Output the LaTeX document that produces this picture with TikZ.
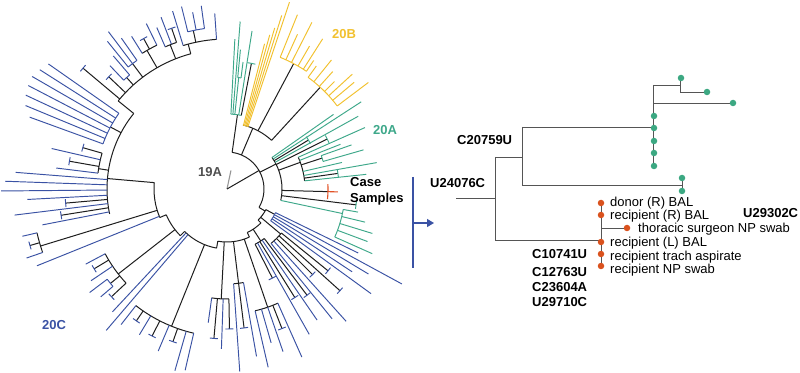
\documentclass[tikz,border=0pt]{standalone}
\usepackage{fontspec}
\setmainfont{Liberation Sans}
\usetikzlibrary{arrows.meta}
\definecolor{cblue}{RGB}{58,82,164}
\definecolor{cteal}{RGB}{62,168,138}
\definecolor{cyel}{RGB}{242,193,46}
\definecolor{cred}{RGB}{226,82,38}
\definecolor{cgray}{RGB}{150,150,150}
\definecolor{cdark}{RGB}{30,30,30}
\definecolor{lgray}{RGB}{85,85,85}
\definecolor{dteal}{RGB}{60,168,130}
\definecolor{dred}{RGB}{218,82,30}
\definecolor{lbl}{RGB}{80,80,80}
\newcommand\trad[4]{\draw[#1] (#2:#3pt) -- (#2:#4pt);}
\newcommand\tarc[4]{\draw[#1] (#2:#4pt) arc[start angle=#2,end angle=#3,radius=#4pt];}
\newcommand\tcap[3]{\pgfmathsetmacro\capd{230/#3}\draw[#1] ({#2+\capd}:#3pt) arc[start angle={#2+\capd},end angle={#2-\capd},radius=#3pt];}
\newcommand\btip[4]{\trad{tk}{#2}{#3}{#4}\tcap{#1}{#2}{#4}}
\tikzset{
 tk/.style={cdark,line width=1pt},
 cb/.style={cblue,line width=0.95pt},
 ct/.style={cteal,line width=0.95pt},
 cy/.style={cyel,line width=0.95pt},
 cr/.style={cred,line width=1.1pt},
 cg/.style={cgray,line width=1.1pt},
 rt/.style={lgray,line width=0.9pt},
 tdot/.style={circle,fill=dteal,inner sep=0pt,minimum size=6.5pt},
 rdot/.style={circle,fill=dred,inner sep=0pt,minimum size=6.5pt},
 lab/.style={inner sep=0pt,anchor=base west,font=\fontsize{13}{15}\selectfont},
 blab/.style={lab,font=\fontsize{13}{15}\selectfont\bfseries},
}
\begin{document}
\begin{tikzpicture}[x=1pt,y=1pt]
\useasboundingbox (0,0) rectangle (800,372);
\fill[white] (0,0) rectangle (800,372);
\begin{scope}[shift={(227pt,183pt)}]
% root
\trad{cg}{78}{0}{19}
\trad{tk}{30}{0}{37}
\tarc{tk}{82}{-30}{37}
% top teal
\trad{tk}{82}{37}{75}
\tarc{ct}{87}{79}{75}
\trad{ct}{87}{75}{150}
\trad{ct}{85.5}{75}{168}
\trad{ct}{84}{75}{112}
\tarc{ct}{84.5}{82.8}{112}
\trad{ct}{84.5}{112}{140}
\trad{ct}{82.8}{112}{128}
\trad{ct}{81}{75}{160}
\btip{ct}{79}{75}{128}
% 20B
\trad{tk}{67}{37}{66}
\tarc{tk}{76}{47.5}{66}
\tarc{cy}{76}{71}{66}
\trad{cy}{75.5}{66}{150}
\trad{cy}{74.5}{66}{160}
\trad{cy}{73.5}{66}{168}
\trad{cy}{72.5}{66}{182}
\trad{cy}{71.5}{66}{197}
\trad{tk}{62}{66}{142}
\tarc{cy}{68}{56}{142}
\trad{cy}{68}{142}{188}
\trad{cy}{65.5}{142}{170}
\trad{cy}{63}{142}{187}
\trad{cy}{60}{142}{165}
\trad{cy}{57.5}{142}{178}
\trad{cy}{56}{142}{155}
\trad{tk}{47.5}{66}{138}
\tarc{cy}{54}{37}{138}
\trad{cy}{54}{138}{152}
\trad{cy}{51}{138}{166}
\trad{cy}{48}{138}{158}
\trad{cy}{45}{138}{152}
\trad{cy}{42.5}{138}{170}
\trad{cy}{40}{138}{166}
\trad{cy}{37}{138}{177}
% 20A right + case
\trad{tk}{27}{37}{55}
\tarc{tk}{35}{-12}{55}
\trad{ct}{35}{55}{130}
\trad{ct}{33}{55}{160}
\btip{ct}{31}{55}{95}
\trad{ct}{29}{55}{150}
\btip{ct}{26.5}{55}{112}
\trad{tk}{20}{55}{78}
\tarc{tk}{24}{6}{78}
\trad{ct}{24}{78}{151}
\trad{ct}{21.5}{78}{122}
\trad{tk}{18}{78}{100}
\tarc{ct}{19.5}{16}{100}
\trad{ct}{19.5}{100}{132}
\trad{ct}{16}{100}{142}
\trad{ct}{13}{78}{118}
\trad{ct}{10}{78}{152}
\btip{ct}{8}{78}{112}
\trad{ct}{6}{78}{140}
\trad{tk}{-1.5}{55}{101}
\tarc{cr}{2.8}{-5.8}{101}
\trad{cr}{-1.5}{101}{111}
\btip{ct}{-7}{55}{130}
\trad{ct}{-12}{55}{118}
\tarc{ct}{-10}{-24}{118}
\trad{ct}{-10}{118}{133}
\trad{ct}{-13.5}{118}{142}
\trad{ct}{-17}{118}{152}
\trad{ct}{-20.5}{118}{150}
\trad{ct}{-24}{118}{159}
% lower right
\trad{tk}{-30}{37}{44}
\tarc{tk}{-28}{-45}{44}
\trad{tk}{-28}{44}{54}
\tarc{cb}{-26}{-36}{54}
\trad{cb}{-26}{54}{146}
\trad{cb}{-28.5}{54}{199}
\trad{cb}{-31}{54}{165}
\trad{cb}{-33.5}{54}{150}
\trad{cb}{-36}{54}{178}
\trad{tk}{-40}{44}{70}
\tarc{tk}{-39}{-51}{70}
\btip{cb}{-39}{70}{130}
\btip{cb}{-42}{70}{152}
\btip{cb}{-45}{70}{121}
\trad{cb}{-48}{70}{178}
\trad{cb}{-51}{70}{167}
% spine
\trad{tk}{-45}{44}{48}
\tarc{tk}{-45}{-65}{48}
\trad{tk}{-57}{48}{62}
\tarc{tk}{-53}{-63}{62}
\btip{cb}{-53}{62}{133}
\trad{cb}{-55.5}{62}{159}
\btip{cb}{-58}{62}{128}
\trad{cb}{-60.5}{62}{167}
\btip{cb}{-63}{62}{100}
\trad{tk}{-65}{48}{53}
\tarc{tk}{-65}{-100}{53}
\trad{tk}{-71}{53}{125}
\tarc{tk}{-66}{-77}{125}
\trad{cb}{-66}{125}{184}
\btip{cb}{-68.5}{125}{150}
\trad{cb}{-71}{125}{172}
\trad{cb}{-74}{125}{160}
\trad{cb}{-77}{125}{183}
\trad{tk}{-83}{53}{95}
\tarc{tk}{-80}{-86}{95}
\trad{cb}{-80}{95}{170}
\btip{cb}{-83}{95}{140}
\trad{cb}{-86}{95}{183}
\trad{tk}{-93}{53}{110}
\tarc{tk}{-89}{-98}{110}
\btip{cb}{-89}{110}{140}
\trad{cb}{-92}{110}{160}
\btip{cb}{-95}{110}{150}
\trad{cb}{-98}{110}{135}
\trad{tk}{-100}{53}{60}
\tarc{tk}{-100}{-135}{60}
\trad{tk}{-112}{60}{148}
\tarc{tk}{-103}{-128}{148}
\trad{cb}{-103}{148}{186}
\trad{cb}{-106}{148}{189}
\btip{cb}{-109.5}{148}{162}
\trad{cb}{-113}{148}{176}
\btip{cb}{-117}{148}{165}
\trad{cb}{-121}{148}{170}
\btip{cb}{-124.5}{148}{160}
\trad{cb}{-128}{148}{172}
\trad{cb}{-130.5}{60}{186}
\trad{cb}{-133}{60}{168}
\trad{tk}{-135}{60}{66}
\tarc{tk}{-135}{-157}{66}
\trad{tk}{-142}{66}{138}
\tarc{tk}{-137}{-152}{138}
\btip{cb}{-137}{138}{158}
\trad{tk}{-141}{138}{150}
\tarc{cb}{-139.5}{-143}{150}
\trad{cb}{-139.5}{150}{166}
\trad{cb}{-143}{150}{172}
\trad{cb}{-146}{138}{164}
\btip{cb}{-149}{138}{155}
\trad{cb}{-152}{138}{160}
\trad{tk}{-157}{66}{73}
\tarc{tk}{-157}{-185}{73}
\trad{cb}{-158}{73}{205}
\trad{tk}{-163}{73}{195}
\tarc{tk}{-161}{-167}{195}
\trad{cb}{-161}{195}{212}
\btip{cb}{-164}{195}{205}
\trad{cb}{-167}{195}{210}
\trad{tk}{-185}{73}{120}
\tarc{tk}{-168}{-219}{120}
\trad{cb}{-169}{120}{188}
\btip{cb}{-171}{120}{168}
\trad{cb}{-173}{120}{214}
\btip{cb}{-175}{120}{162}
\trad{cb}{-177}{120}{200}
\trad{cb}{-179.5}{120}{226}
\trad{cb}{-182}{120}{222}
\trad{cb}{-184.5}{120}{212}
\trad{tk}{-189}{120}{130}
\tarc{tk}{-187}{-196}{130}
\trad{cb}{-187}{130}{172}
\btip{cb}{-190}{130}{160}
\trad{cb}{-193}{130}{180}
\btip{cb}{-196}{130}{150}
\trad{tk}{-208}{120}{132}
\tarc{cb}{-200}{-215}{132}
\trad{cb}{-200}{132}{210}
\trad{cb}{-202.5}{132}{218}
\trad{cb}{-205}{132}{222}
\trad{cb}{-207.5}{132}{224}
\trad{cb}{-210}{132}{225}
\trad{cb}{-212.5}{132}{222}
\trad{cb}{-215}{132}{218}
\trad{tk}{-219}{120}{140}
\tarc{tk}{-219}{-255}{140}
\btip{cb}{-220}{140}{188}
\btip{cb}{-223.5}{140}{163}
\trad{tk}{-228}{140}{150}
\tarc{cb}{-226.5}{-229.5}{150}
\trad{cb}{-226.5}{150}{170}
\trad{cb}{-229.5}{150}{175}
\trad{tk}{-233}{140}{157}
\tarc{cb}{-231}{-235}{157}
\trad{cb}{-231}{157}{190}
\trad{cb}{-233}{157}{197}
\trad{cb}{-235}{157}{184}
\trad{tk}{-240}{140}{160}
\tarc{tk}{-238}{-244}{160}
\trad{cb}{-238}{160}{180}
\btip{cb}{-241}{160}{172}
\trad{cb}{-244}{160}{184}
\trad{tk}{-248.5}{140}{155}
\tarc{tk}{-246.5}{-251}{155}
\trad{cb}{-246.5}{155}{176}
\trad{cb}{-249}{155}{184}
\btip{cb}{-251}{155}{170}
\trad{tk}{-255}{140}{150}
\tarc{tk}{-253}{-266}{150}
\trad{cb}{-253}{150}{186}
\trad{tk}{-258}{150}{162}
\tarc{cb}{-256}{-262}{162}
\trad{cb}{-256}{162}{188}
\trad{cb}{-259}{162}{180}
\trad{cb}{-262}{162}{185}
\trad{cb}{-266}{150}{176}
\end{scope}
% clade labels
\node[blab,text=lbl] (l19a) at (198,195.3) {19A};
\node[blab,text=cyel] (l20b) at (332,333.3) {20B};
\node[blab,text=cteal] (l20a) at (373,237.3) {20A};
\node[blab,text=cblue] (l20c) at (42,42.3) {20C};
\node[blab] (case1) at (350,185) {Case};
\node[blab] (case2) at (350,169.5) {Samples};
% bracket and arrow
\coordinate (bt) at (413,195);
\coordinate (bb) at (413,104);
\coordinate (am) at (413,149);
\coordinate (ae) at (434,149);
\draw[cblue,line width=1.1pt] (bt) -- (bb);
\draw[cblue,line width=1.1pt,-{Triangle[length=7pt,width=8pt]}] (am) -- (ae);
% right tree
\coordinate (r0) at (456,174);
\coordinate (n1) at (495,174);
\coordinate (n1t) at (495,215);
\coordinate (n1b) at (495,132);
\coordinate (n2) at (522,215);
\coordinate (n2t) at (522,245);
\coordinate (n2b) at (522,187);
\coordinate (n3) at (653,245);
\coordinate (n3t) at (653,287);
\coordinate (n3b) at (653,206);
\coordinate (n4) at (680,287);
\coordinate (n4t) at (680,294);
\coordinate (n4b) at (680,280);
\coordinate (n3m) at (653,269);
\coordinate (n5) at (682,187);
\coordinate (n5t) at (682,194);
\coordinate (n5b) at (682,180);
\coordinate (n6) at (601,132);
\coordinate (n6t) at (601,169);
\coordinate (n6b) at (601,106);
\coordinate (n6m) at (601,144);
\coordinate (t2c) at (707,280);
\coordinate (t3c) at (733,269);
\coordinate (p3c) at (627,144);
\draw[rt] (r0) -- (n1);
\draw[rt] (n1t) -- (n1b);
\draw[rt] (n1t) -- (n2);
\draw[rt] (n2t) -- (n2b);
\draw[rt] (n2t) -- (n3);
\draw[rt] (n3t) -- (n3b);
\draw[rt] (n3t) -- (n4);
\draw[rt] (n4t) -- (n4b);
\draw[rt] (n4b) -- (t2c);
\draw[rt] (n3m) -- (t3c);
\draw[rt] (n2b) -- (n5);
\draw[rt] (n5t) -- (n5b);
\draw[rt] (n1b) -- (n6);
\draw[rt] (n6t) -- (n6b);
\draw[rt] (n6m) -- (p3c);
\node[tdot] (t1) at (681,294) {};
\node[tdot] (t2) at (t2c) {};
\node[tdot] (t3) at (t3c) {};
\node[tdot] (t4) at (654,256) {};
\node[tdot] (t5) at (654,244) {};
\node[tdot] (t6) at (654,231) {};
\node[tdot] (t7) at (654,219) {};
\node[tdot] (t8) at (654,206) {};
\node[tdot] (t9) at (682,194) {};
\node[tdot] (t10) at (682,181) {};
\node[rdot] (p1) at (601,169) {};
\node[rdot] (p2) at (601,157) {};
\node[rdot] (p3) at (p3c) {};
\node[rdot] (p4) at (601,130) {};
\node[rdot] (p5) at (601,118) {};
\node[rdot] (p6) at (601,106) {};
% right labels
\node[lab] (s1) at (610,165.5) {donor (R) BAL};
\node[lab] (s2) at (610,152.5) {recipient (R) BAL};
\node[lab] (s3) at (638,139.5) {thoracic surgeon NP swab};
\node[lab] (s4) at (610,125.5) {recipient (L) BAL};
\node[lab] (s5) at (610,111.5) {recipient trach aspirate};
\node[lab] (s6) at (610,98.5) {recipient NP swab};
\node[blab] (m1) at (457,227.3) {C20759U};
\node[blab] (m2) at (430,184) {U24076C};
\node[blab] (m3) at (743,154.3) {U29302C};
\node[blab] (m4) at (532,113) {C10741U};
\node[blab] (m5) at (532,95.5) {C12763U};
\node[blab] (m6) at (532,80.5) {C23604A};
\node[blab] (m7) at (532,65.5) {U29710C};
\end{tikzpicture}
\end{document}
